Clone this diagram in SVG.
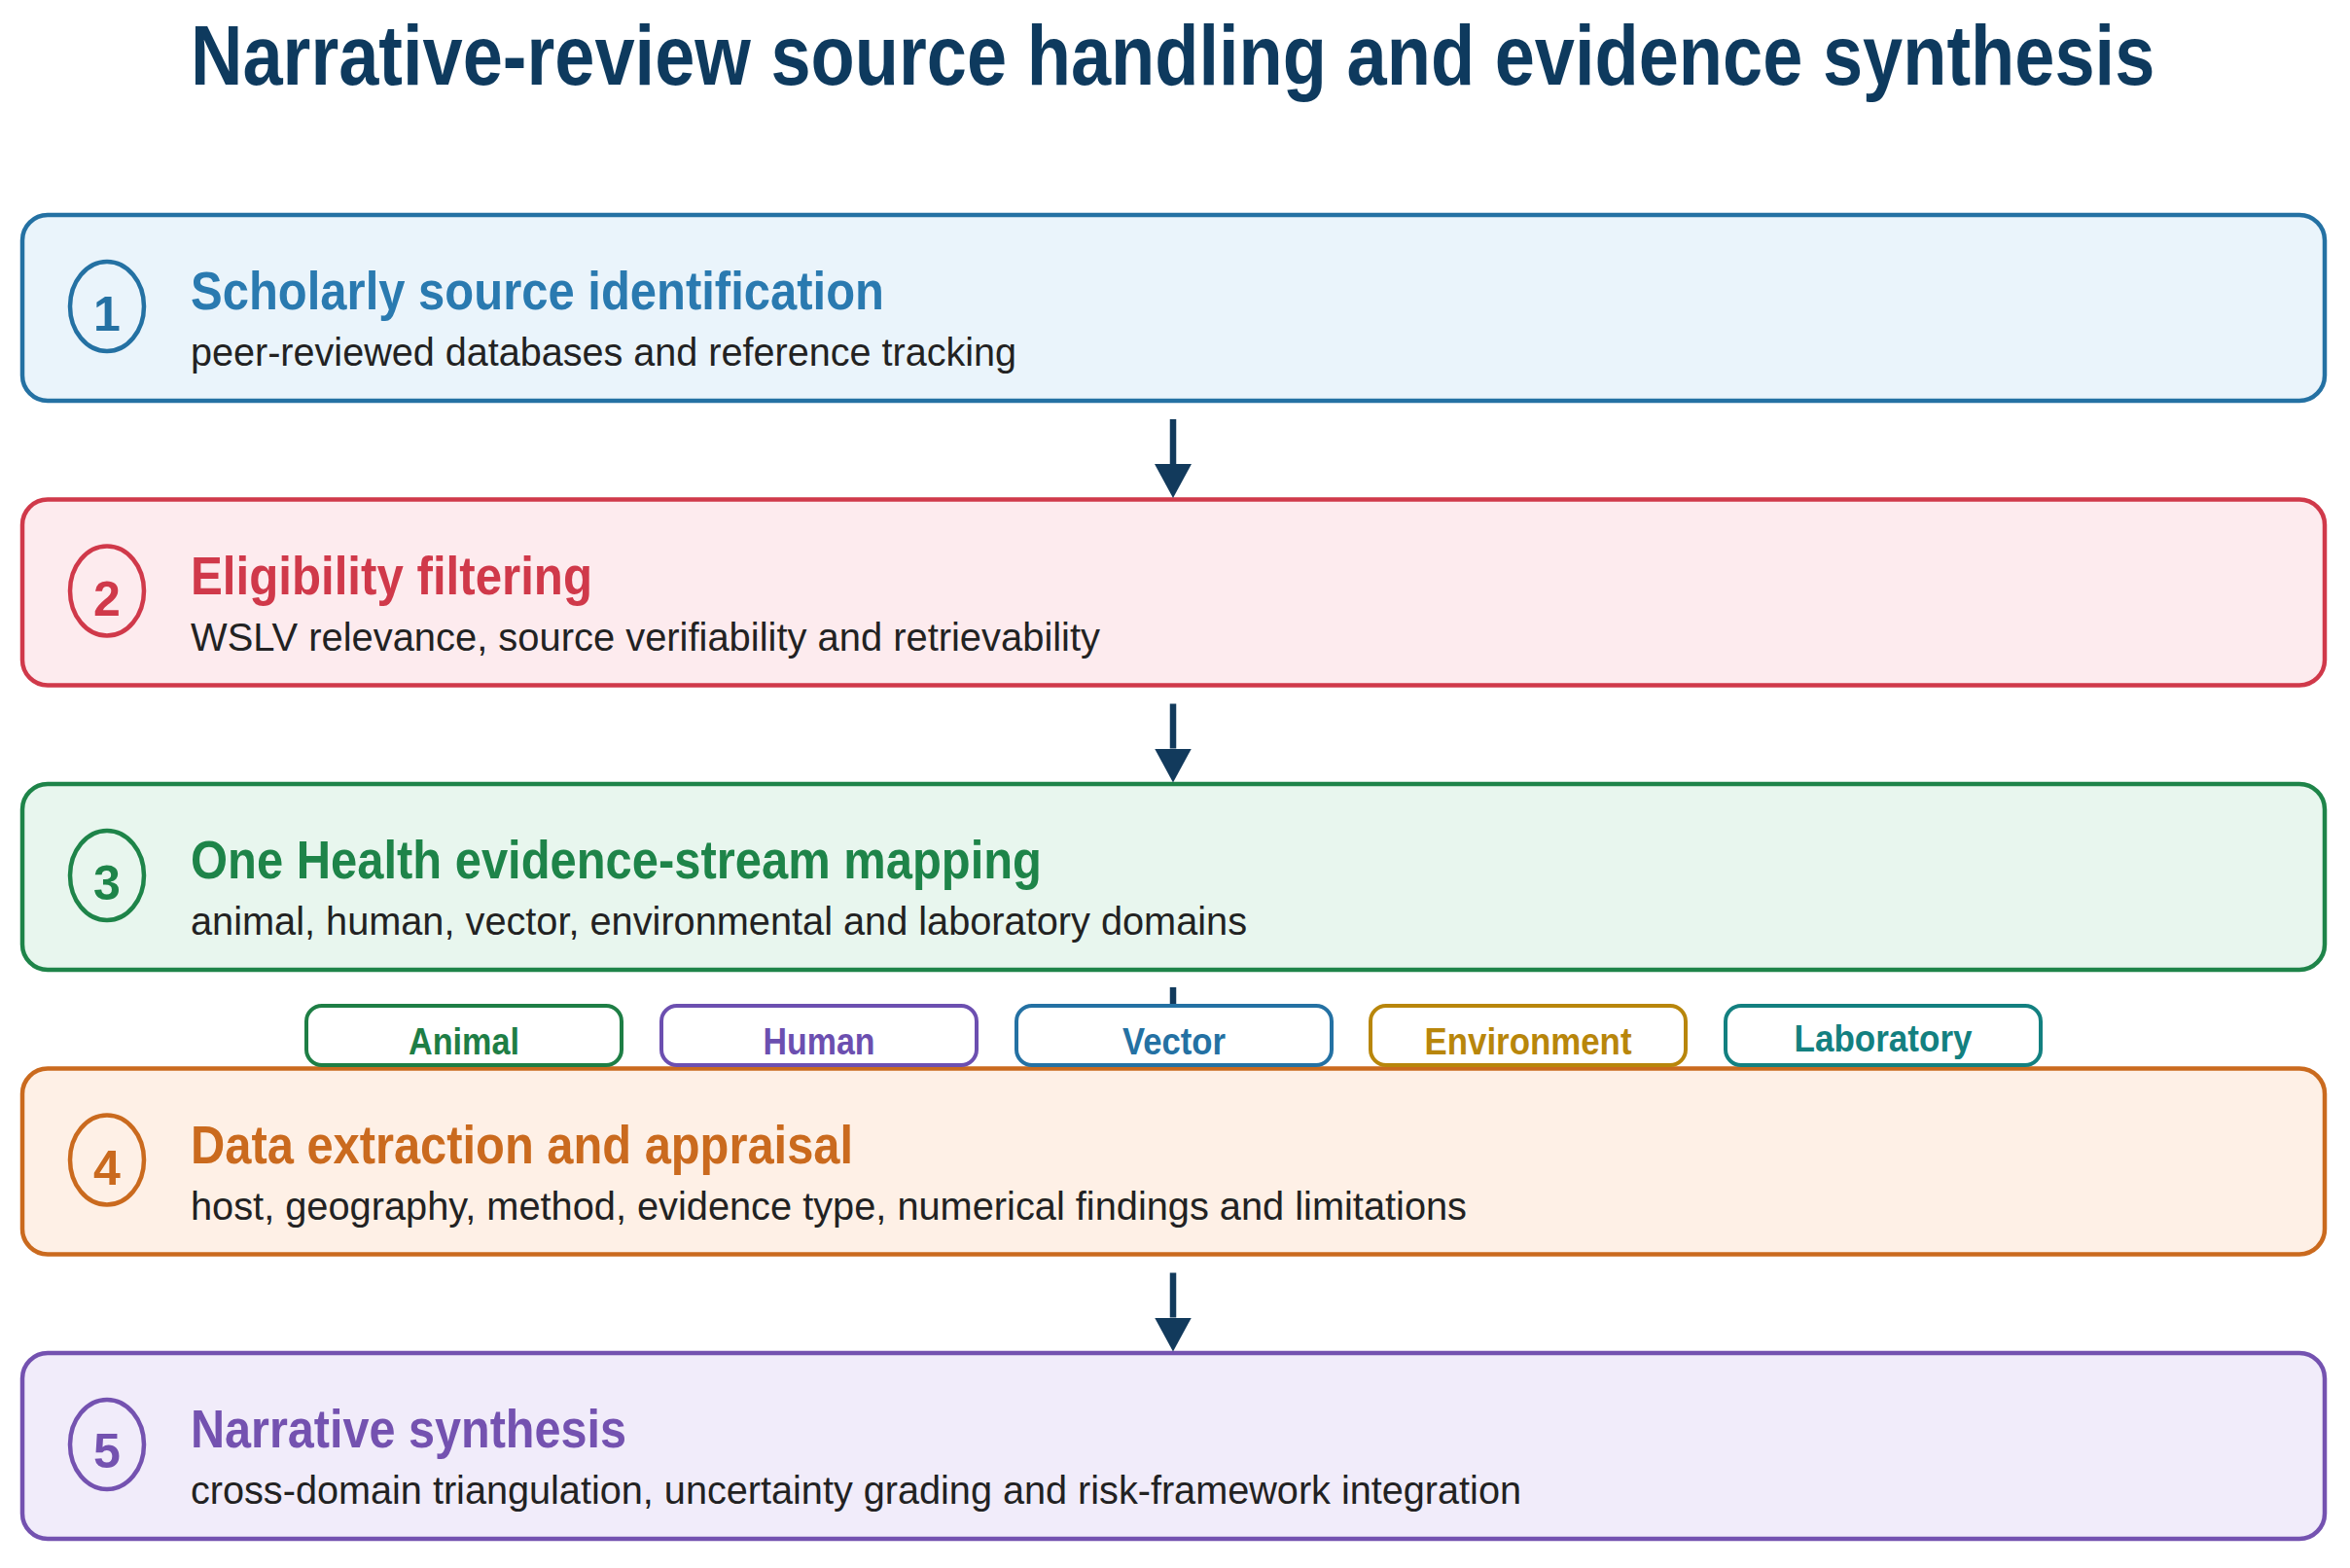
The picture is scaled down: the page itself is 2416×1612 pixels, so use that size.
<svg xmlns="http://www.w3.org/2000/svg" width="2416" height="1612" viewBox="0 0 2416 1612">
<style>
text{font-family:"Liberation Sans",Arial,Helvetica,sans-serif}
.title{font-size:88px;font-weight:700;fill:#0e3a5e}
.box{stroke-width:4.5}
.head{font-size:56px;font-weight:700}
.sub{font-size:40px;fill:#222}
.num{font-size:50px;font-weight:700;text-anchor:middle}
.ring{stroke-width:4.5}
.tag{fill:#fff;stroke-width:4}
.tagt{font-size:38px;font-weight:700;text-anchor:middle}
.conn{stroke:#123a5c;stroke-width:6.5;fill:none}
</style>
<defs>
<marker id="ah" viewBox="0 0 35 38" markerWidth="35" markerHeight="38" refX="0" refY="19" orient="auto" markerUnits="userSpaceOnUse">
<polygon points="0,0 35,19 0,38" fill="#123a5c"/>
</marker>
</defs>
<rect width="2416" height="1612" fill="#fff"/>
<text class="title" transform="translate(196 87) scale(0.841 1)" x="0" y="0">Narrative-review source handling and evidence synthesis</text>

<g id="step1">
<rect class="box" x="23" y="221" width="2367" height="191" rx="26" fill="#eaf4fb" stroke="#2471a3"/>
<ellipse class="ring" cx="110" cy="315" rx="38" ry="46" stroke="#2471a3" fill="#eaf4fb"/>
<text class="num" x="110" y="340" fill="#2471a3">1</text>
<text class="head" x="196" y="318" fill="#2a7ab0" textLength="713" lengthAdjust="spacingAndGlyphs">Scholarly source identification</text>
<text class="sub" x="196" y="376" textLength="849" lengthAdjust="spacingAndGlyphs">peer-reviewed databases and reference tracking</text>
</g>

<g id="step2">
<rect class="box" x="23" y="513.5" width="2367" height="191" rx="26" fill="#fdebee" stroke="#d0394a"/>
<ellipse class="ring" cx="110" cy="607.5" rx="38" ry="46" stroke="#d0394a" fill="#fdebee"/>
<text class="num" x="110" y="632.5" fill="#d0394a">2</text>
<text class="head" x="196" y="610.5" fill="#d0394a" textLength="413" lengthAdjust="spacingAndGlyphs">Eligibility filtering</text>
<text class="sub" x="196" y="668.5" textLength="935" lengthAdjust="spacingAndGlyphs">WSLV relevance, source verifiability and retrievability</text>
</g>

<g id="step3">
<rect class="box" x="23" y="806" width="2367" height="191" rx="26" fill="#e8f6ee" stroke="#1e8449"/>
<ellipse class="ring" cx="110" cy="900" rx="38" ry="46" stroke="#1e8449" fill="#e8f6ee"/>
<text class="num" x="110" y="925" fill="#1e8449">3</text>
<text class="head" x="196" y="903" fill="#1e8449" textLength="875" lengthAdjust="spacingAndGlyphs">One Health evidence-stream mapping</text>
<text class="sub" x="196" y="961" textLength="1086" lengthAdjust="spacingAndGlyphs">animal, human, vector, environmental and laboratory domains</text>
</g>

<g id="step4">
<rect class="box" x="23" y="1098.5" width="2367" height="191" rx="26" fill="#fef0e6" stroke="#ca6a1e"/>
<ellipse class="ring" cx="110" cy="1192.5" rx="38" ry="46" stroke="#ca6a1e" fill="#fef0e6"/>
<text class="num" x="110" y="1217.5" fill="#ca6a1e">4</text>
<text class="head" x="196" y="1195.5" fill="#ca6a1e" textLength="681" lengthAdjust="spacingAndGlyphs">Data extraction and appraisal</text>
<text class="sub" x="196" y="1253.5" textLength="1312" lengthAdjust="spacingAndGlyphs">host, geography, method, evidence type, numerical findings and limitations</text>
</g>

<g id="step5">
<rect class="box" x="23" y="1391" width="2367" height="191" rx="26" fill="#f1ecfa" stroke="#7452b0"/>
<ellipse class="ring" cx="110" cy="1485" rx="38" ry="46" stroke="#7452b0" fill="#f1ecfa"/>
<text class="num" x="110" y="1509" fill="#7452b0">5</text>
<text class="head" x="196" y="1488" fill="#7452b0" textLength="448" lengthAdjust="spacingAndGlyphs">Narrative synthesis</text>
<text class="sub" x="196" y="1546" textLength="1368" lengthAdjust="spacingAndGlyphs">cross-domain triangulation, uncertainty grading and risk-framework integration</text>
</g>

<g id="connectors">
<line class="conn" x1="1206" y1="431" x2="1206" y2="477" marker-end="url(#ah)"/>
<line class="conn" x1="1206" y1="723.5" x2="1206" y2="769.5" marker-end="url(#ah)"/>
<line class="conn" x1="1206" y1="1015" x2="1206" y2="1062" marker-end="url(#ah)"/>
<line class="conn" x1="1206" y1="1308.5" x2="1206" y2="1354.5" marker-end="url(#ah)"/>
</g>

<g id="tag-animal">
<rect class="tag" x="315" y="1034" width="324" height="61" rx="16" stroke="#1e7e45"/>
<text class="tagt" x="477" y="1084" fill="#1e7e45" textLength="114" lengthAdjust="spacingAndGlyphs">Animal</text>
</g>
<g id="tag-human">
<rect class="tag" x="680" y="1034" width="324" height="61" rx="16" stroke="#6c4fb0"/>
<text class="tagt" x="842" y="1084" fill="#6c4fb0" textLength="115" lengthAdjust="spacingAndGlyphs">Human</text>
</g>
<g id="tag-vector">
<rect class="tag" x="1045" y="1034" width="324" height="61" rx="16" stroke="#2471a3"/>
<text class="tagt" x="1207" y="1084" fill="#2471a3" textLength="106" lengthAdjust="spacingAndGlyphs">Vector</text>
</g>
<g id="tag-environment">
<rect class="tag" x="1409" y="1034" width="324" height="61" rx="16" stroke="#b8860b"/>
<text class="tagt" x="1571" y="1084" fill="#b8860b" textLength="213" lengthAdjust="spacingAndGlyphs">Environment</text>
</g>
<g id="tag-laboratory">
<rect class="tag" x="1774" y="1034" width="324" height="61" rx="16" stroke="#138080"/>
<text class="tagt" x="1936" y="1081" fill="#138080" textLength="183" lengthAdjust="spacingAndGlyphs">Laboratory</text>
</g>
</svg>
